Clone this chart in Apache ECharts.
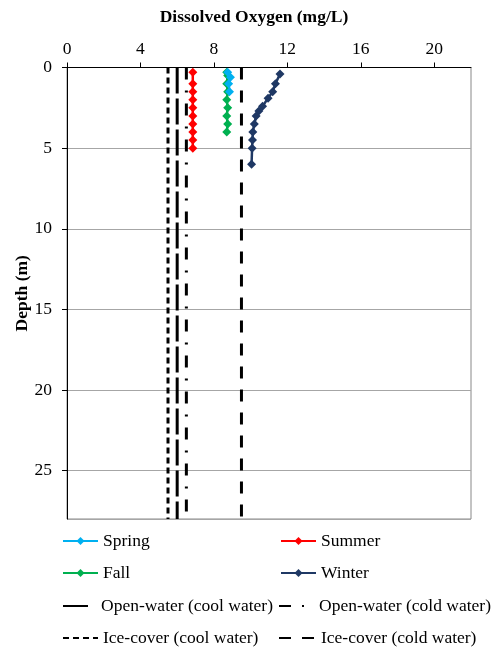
<!DOCTYPE html>
<html>
<head>
<meta charset="utf-8">
<script src="https://cdn.jsdelivr.net/npm/echarts@6/dist/echarts.min.js"></script>
<style>
html,body{margin:0;padding:0;background:#fff;}
#c{width:494px;height:648px;}
</style>
</head>
<body>
<div id="c"></div>
<script>
// ---- Data (DO in mg/L vs depth in m) ----
var springDepth = [0.3, 0.6, 1.0, 1.5];
var springDO    = [8.75, 8.9, 8.8, 8.85];

var summerDepth = [0.3, 1.0, 1.5, 2.0, 2.5, 3.0, 3.5, 4.0, 4.5, 5.0];
var summerDO    = [6.85, 6.85, 6.85, 6.85, 6.85, 6.85, 6.85, 6.85, 6.85, 6.85];

var fallDepth = [0.3, 0.5, 1.0, 1.5, 2.0, 2.5, 3.0, 3.5, 4.0];
var fallDO    = [8.7, 8.75, 8.7, 8.75, 8.7, 8.75, 8.7, 8.75, 8.7];

var winterDepth = [0.4, 1.0, 1.5, 1.9, 2.4, 2.7, 3.0, 3.5, 4.0, 4.5, 5.0, 6.0];
var winterDO    = [11.6, 11.35, 11.2, 10.95, 10.65, 10.45, 10.3, 10.2, 10.12, 10.1, 10.08, 10.05];

// Reference criteria lines (mg/L) spanning the depth range
var refDepth = [0, 28];
var openCool  = 6.0;
var openCold  = 6.5;
var iceCool   = 5.5;
var iceCold   = 9.5;

var xTicks = [0, 4, 8, 12, 16, 20];
var yTicks = [0, 5, 10, 15, 20, 25];

function pairs(xs, ys){ return xs.map(function(x,i){ return [x, ys[i]]; }); }
function vline(v){ return refDepth.map(function(d){ return [v, d]; }); }

var serif = '"Liberation Serif", "Times New Roman", serif';

var chart = echarts.init(document.getElementById('c'), null, {renderer:'canvas'});

function dataSeries(name, color, xs, ys){
  return {
    name: name, type: 'line', data: pairs(xs, ys),
    symbol: 'diamond', symbolSize: 9, showSymbol: true,
    lineStyle: {color: color, width: 2.5},
    itemStyle: {color: color},
    z: 5, animation: false
  };
}
function refSeries(name, v, dash){
  return {
    name: name, type: 'line', data: vline(v), symbol: 'none',
    lineStyle: {color: '#000', width: 3, type: dash, cap: 'butt'},
    itemStyle: {color: '#000'},
    z: 3, animation: false
  };
}

var noSym = {itemStyle: {color: 'rgba(0,0,0,0)', borderWidth: 0, opacity: 0}};

function leg(name, left, top, w, extra, padLeft){
  var d = {name: name};
  if (extra) { for (var k in extra) d[k] = extra[k]; }
  return {
    data: [d], left: left, top: top, itemWidth: w, itemHeight: 10,
    textStyle: {fontFamily: serif, fontSize: 17.5, color: '#000', padding: [0, 0, 0, padLeft || 0]},
    selectedMode: false, padding: 0, itemGap: 0
  };
}

chart.setOption({
  backgroundColor: '#fff',
  animation: false,
  title: {
    text: 'Dissolved Oxygen (mg/L)', left: 249, top: 3, textAlign: 'center',
    textStyle: {fontFamily: serif, fontSize: 17.5, fontWeight: 'bold', color: '#000'}
  },
  grid: {left: 67, right: 23, top: 67.5, bottom: 129, show: true, borderColor: '#888', borderWidth: 1,
         containLabel: false, outerBoundsMode: 'none'},
  xAxis: {
    type: 'value', position: 'top', min: 0, max: 22, interval: 4,
    axisLine: {show: true, lineStyle: {color: '#000', width: 1}},
    axisTick: {show: true, inside: false, length: 5, lineStyle: {color: '#000'}},
    axisLabel: {fontFamily: serif, fontSize: 17.5, color: '#000', margin: 9, showMaxLabel: false,
      formatter: function(v){ return xTicks.indexOf(v) >= 0 ? String(v) : ''; }},
    splitLine: {show: false}
  },
  yAxis: {
    type: 'value', inverse: true, min: 0, max: 28, interval: 5,
    name: 'Depth (m)', nameLocation: 'middle', nameGap: 36, nameRotate: 90, nameMoveOverlap: false,
    nameTextStyle: {fontFamily: serif, fontSize: 17.5, fontWeight: 'bold', color: '#000'},
    axisLine: {show: true, lineStyle: {color: '#000', width: 1}},
    axisTick: {show: true, inside: false, length: 5, lineStyle: {color: '#000'}},
    axisLabel: {fontFamily: serif, fontSize: 17.5, color: '#000', margin: 15, showMaxLabel: false,
      formatter: function(v){ return yTicks.indexOf(v) >= 0 ? String(v) : ''; }},
    splitLine: {show: true, lineStyle: {color: '#a6a6a6', width: 1}}
  },
  legend: [
    leg('Spring', 62, 532, 35),
    leg('Summer', 280, 532, 35),
    leg('Fall', 62, 564, 35),
    leg('Winter', 280, 564, 35),
    leg('Open-water (cool water)', 62, 597, 25, {lineStyle: {type: 'solid'}, itemStyle: noSym.itemStyle}, 8),
    leg('Open-water (cold water)', 278, 597, 35, noSym),
    leg('Ice-cover (cool water)', 62, 629, 35, noSym),
    leg('Ice-cover (cold water)', 278, 629, 37, noSym)
  ],
  series: [
    refSeries('Ice-cover (cool water)', iceCool, [6, 4]),
    refSeries('Open-water (cool water)', openCool, [26, 5]),
    refSeries('Open-water (cold water)', openCold, [12, 11, 2, 11]),
    refSeries('Ice-cover (cold water)', iceCold, [12, 11]),
    dataSeries('Fall', '#00B050', fallDO, fallDepth),
    dataSeries('Spring', '#00B0F0', springDO, springDepth),
    dataSeries('Summer', '#FF0000', summerDO, summerDepth),
    dataSeries('Winter', '#1F3864', winterDO, winterDepth)
  ]
});
</script>
</body>
</html>
